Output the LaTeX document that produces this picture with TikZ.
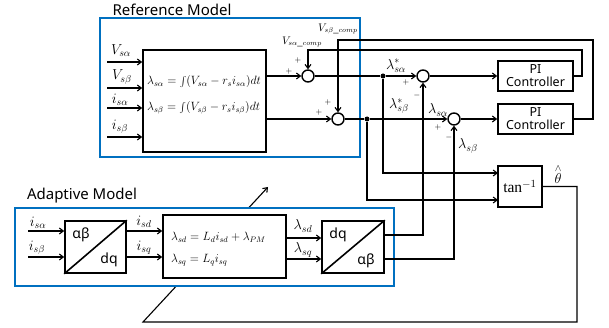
\documentclass[tikz,border=0pt]{standalone}
\usepackage{fontspec}
\setmainfont{Liberation Serif}
\newfontfamily\sansf{Noto Sans}
\usetikzlibrary{arrows.meta}
\definecolor{mblue}{RGB}{0,112,192}
\begin{document}
\begin{tikzpicture}[x=1pt,y=-1pt,
  blk/.style={draw, line width=1.6pt, fill=white, inner sep=0pt},
  bluebox/.style={draw=mblue, line width=1.8pt, inner sep=0pt},
  sumc/.style={circle, draw, line width=1.4pt, minimum size=12pt, inner sep=0pt},
  wire/.style={line width=1.1pt},
  arr/.style={wire, -{Straight Barb[length=4pt,width=6pt]}},
  dotn/.style={circle, fill, minimum size=5pt, inner sep=0pt},
  lbl/.style={inner sep=0pt, font=\fontsize{14}{14}\selectfont},
  sgn/.style={inner sep=0pt, font=\fontsize{8}{8}\selectfont},
  ttl/.style={inner sep=0pt, font=\sansf\fontsize{15}{15}\selectfont},
  eqn/.style={inner sep=0pt, anchor=west, font=\fontsize{11.5}{12}\selectfont},
  bigtxt/.style={inner sep=0pt, font=\sansf\fontsize{14}{14}\selectfont}]
\useasboundingbox (0,0) rectangle (609,328);

% ---------- reference model ----------
\node[bluebox, minimum width=260pt, minimum height=139pt] (refm) at (230,87.5) {};
\node[ttl] (reft) at (172,10) {Reference Model};
\node[blk, minimum width=123pt, minimum height=102pt] (refi) at (204.5,101) {};
\node[eqn] (eq1) at (147,82) {$\lambda_{s\alpha}=\int(V_{s\alpha}-r_s i_{s\alpha})dt$};
\node[eqn] (eq2) at (147,108) {$\lambda_{s\beta}=\int(V_{s\beta}-r_s i_{s\beta})dt$};

\coordinate (rin1) at (107,62);
\coordinate (rin2) at (107,88);
\coordinate (rin3) at (107,108);
\coordinate (rin4) at (107,137);
\draw[arr] (rin1) -- (rin1 -| refi.west);
\draw[arr] (rin2) -- (rin2 -| refi.west);
\draw[arr] (rin3) -- (rin3 -| refi.west);
\draw[arr] (rin4) -- (rin4 -| refi.west);
\node[lbl] (lv1) at (121,51) {$V_{s\alpha}$};
\node[lbl] (lv2) at (122,77) {$V_{s\beta}$};
\node[lbl] (li1) at (120,100) {$i_{s\alpha}$};
\node[lbl] (li2) at (120,127) {$i_{s\beta}$};

% summers
\node[sumc] (s1) at (308,76) {};
\node[sumc] (s2) at (338,119) {};
\node[sumc] (s3) at (423,76) {};
\node[sumc] (s4) at (454,119) {};
\node[dotn] (d1) at (383,76) {};
\node[dotn] (d2) at (367,119) {};

\draw[arr] (refi.east |- s1) -- (s1);
\draw[arr] (refi.east |- s2) -- (s2);
\draw[wire] (s1) -- (d1);
\draw[arr] (d1) -- (s3);
\draw[wire] (s2) -- (d2);
\draw[arr] (d2) -- (s4);

% PI controllers
\node[blk, minimum width=75pt, minimum height=30pt, align=center,
      font=\sansf\fontsize{12.5}{13}\selectfont] (PI1) at (535.5,76) {PI\\Controller};
\node[blk, minimum width=75pt, minimum height=30pt, align=center,
      font=\sansf\fontsize{12.5}{13}\selectfont] (PI2) at (535.5,119) {PI\\Controller};
\draw[arr] (s3) -- (PI1);
\draw[arr] (s4) -- (PI2);

\coordinate (f1) at (582,50);
\coordinate (f2) at (593,40);
\draw[arr] (PI1.east) -| (f1) -| (s1.north);
\draw[arr] (PI2.east) -| (f2) -| (s2.north);

\node[inner sep=0pt, font=\fontsize{10.5}{10.5}\selectfont] (lc1) at (302,42) {$V_{s\alpha\_comp}$};
\node[inner sep=0pt, font=\fontsize{10.5}{10.5}\selectfont] (lc2) at (338,29) {$V_{s\beta\_comp}$};

\node[sgn] (p1a) at (289,72) {$+$};
\node[sgn] (p1b) at (298,61) {$+$};
\node[sgn] (p2a) at (319,113) {$+$};
\node[sgn] (p2b) at (328,103) {$+$};
\node[sgn] (p3a) at (406,83) {$+$};
\node[sgn] (p3b) at (417,96) {$-$};
\node[sgn] (p4a) at (438,128) {$+$};
\node[sgn] (p4b) at (449,138) {$-$};

\node[lbl] (ls1) at (396,66) {$\lambda^{*}_{s\alpha}$};
\node[lbl] (ls2) at (399,106) {$\lambda^{*}_{s\beta}$};
\node[lbl] (ls3) at (438,110) {$\lambda_{s\alpha}$};
\node[lbl] (ls4) at (468,146) {$\lambda_{s\beta}$};

% tan^-1
\node[blk, minimum width=44pt, minimum height=41pt, font=\fontsize{15.5}{15.5}\selectfont] (tan) at (520,186.5) {tan$^{-1}$};
\coordinate (t1) at (498,173);
\coordinate (t2) at (498,200);
\draw[arr] (d1) |- (t1);
\draw[arr] (d2) |- (t2);
\node[lbl] (lth) at (558,174) {$\stackrel{\wedge}{\theta}$};

% feedback to adaptive model (adjustable arrow)
\coordinate (c1) at (577,322);
\coordinate (c2) at (143,322);
\coordinate (c3) at (268,187);
\draw[arr] (tan.east) -| (c1) -- (c2) -- (c3);

% ---------- adaptive model ----------
\node[bluebox, fill=white, minimum width=379pt, minimum height=78pt] (adm) at (204.5,247) {};
\node[ttl] (admt) at (82,196) {Adaptive Model};

\node[blk, minimum width=61pt, minimum height=52pt] (abdq) at (95.5,247) {};
\draw[line width=1.6pt] (abdq.south west) -- (abdq.north east);
\node[bigtxt] (abt) at (81,235) {αβ};
\node[bigtxt] (dqt) at (109,260) {dq};

\node[blk, minimum width=123pt, minimum height=63pt] (flux) at (224.5,246.5) {};
\node[eqn] (eq3) at (171,237) {$\lambda_{sd}=L_d i_{sd}+\lambda_{PM}$};
\node[eqn] (eq4) at (171,260) {$\lambda_{sq}=L_q i_{sq}$};

\node[blk, minimum width=62pt, minimum height=52pt] (dqab) at (353,247) {};
\draw[line width=1.6pt] (dqab.south west) -- (dqab.north east);
\node[bigtxt] (dqt2) at (338,235) {dq};
\node[bigtxt] (abt2) at (366,261) {αβ};

\coordinate (ain1) at (28,231);
\coordinate (ain2) at (28,257);
\draw[arr] (ain1) -- (ain1 -| abdq.west);
\draw[arr] (ain2) -- (ain2 -| abdq.west);
\node[lbl] (la1) at (38,223) {$i_{s\alpha}$};
\node[lbl] (la2) at (37,248) {$i_{s\beta}$};

\draw[arr] (abdq.east |- ain1) -- (flux.west |- ain1);
\draw[arr] (abdq.east |- ain2) -- (flux.west |- ain2);
\node[lbl] (lisd) at (144,222) {$i_{sd}$};
\node[lbl] (lisq) at (144,248) {$i_{sq}$};

\coordinate (fo1) at (286,238);
\coordinate (fo2) at (286,259);
\draw[arr] (fo1) -- (fo1 -| dqab.west);
\draw[arr] (fo2) -- (fo2 -| dqab.west);
\node[lbl] (lsd) at (303,226) {$\lambda_{sd}$};
\node[lbl] (lsq) at (303,250) {$\lambda_{sq}$};

\coordinate (o1) at (384,235);
\coordinate (o2) at (384,259);
\draw[arr] (o1) -| (s3.south);
\draw[arr] (o2) -| (s4.south);
\end{tikzpicture}
\end{document}
